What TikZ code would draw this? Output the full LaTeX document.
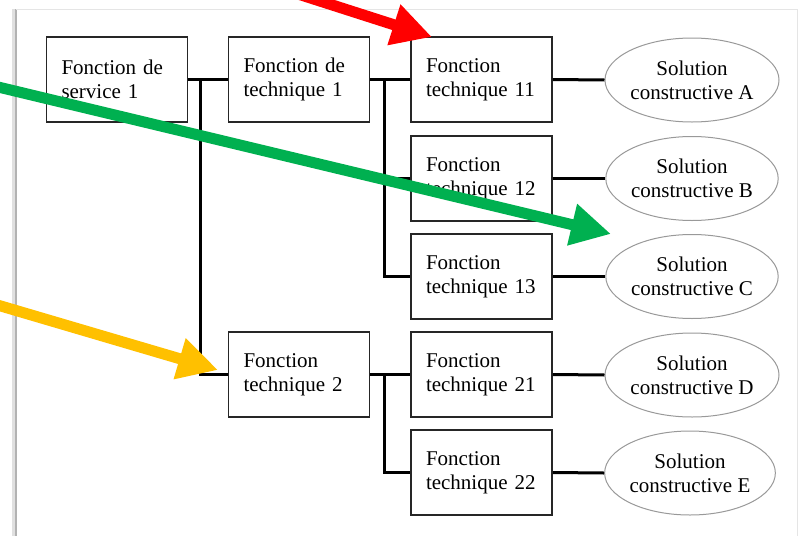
\documentclass[tikz,border=0pt]{standalone}
\usepackage{fontspec}
\setmainfont{Liberation Serif}
\usetikzlibrary{arrows.meta,shapes.geometric}
\definecolor{arred}{HTML}{FF0000}
\definecolor{argreen}{HTML}{00B050}
\definecolor{aryellow}{HTML}{FFC000}
\tikzset{
  fbox/.style={draw=black!85, line width=1.6pt, minimum width=141pt, minimum height=85pt,
    inner xsep=15pt, text width=111pt, align=left, font=\fontsize{21}{24}\selectfont},
  sol/.style={ellipse, draw=black!40, line width=1pt, minimum width=168pt, minimum height=84pt,
    inner sep=0pt, align=center, font=\fontsize{21}{24}\selectfont},
  conn/.style={line width=3pt, black},
  bigarrow/.style={line width=11pt, -{Triangle[length=40pt,width=40pt]}},
}
\begin{document}
\begin{tikzpicture}[x=1pt,y=-1pt]
\clip (0,0) rectangle (801,536);
\fill[white] (0,0) rectangle (801,536);
% page frame
\draw[black!12, line width=4pt] (14,9) -- (14,536);
\draw[black!30, line width=1.2pt] (16,9) -- (16,536);
\draw[black!10, line width=1pt] (16,9) -- (797,9) -- (797,536);

% boxes
\node[fbox] (FS1) at (117,79.5) {Fonction de service 1};
\node[fbox] (FT1) at (299,79.5) {Fonction de technique 1};
\node[fbox] (FT11) at (481.5,79.5) {Fonction technique 11};
\node[fbox] (FT12) at (481.5,178.5) {Fonction technique 12};
\node[fbox] (FT13) at (481.5,276.5) {Fonction technique 13};
\node[fbox] (FT2) at (299,374.5) {Fonction technique 2};
\node[fbox] (FT21) at (481.5,374.5) {Fonction technique 21};
\node[fbox] (FT22) at (481.5,472.5) {Fonction technique 22};

% ellipses
\node[sol] (SA) at (692,80) {Solution\\constructive A};
\node[sol] (SB) at (692,178.5) {Solution\\constructive B};
\node[sol] (SC) at (692,276.5) {Solution\\constructive C};
\node[sol] (SD) at (692,375) {Solution\\constructive D};
\node[sol] (SE) at (690,473) {Solution\\constructive E};

% connectors
\coordinate (j1) at (200,79.5);
\coordinate (j2) at (384,79.5);
\coordinate (j3) at (384,374.5);
\draw[conn] (FS1.east) -- (FT1.west);
\draw[conn] (j1) |- (FT2.west);
\draw[conn] (FT1.east) -- (FT11.west);
\draw[conn] (j2) |- (FT12.west);
\draw[conn] (j2) |- (FT13.west);
\draw[conn] (FT2.east) -- (FT21.west);
\draw[conn] (j3) |- (FT22.west);
\draw[conn] (FT11.east) -- (SA.west);
\draw[conn] (FT12.east) -- (SB.west);
\draw[conn] (FT13.east) -- (SC.west);
\draw[conn] (FT21.east) -- (SD.west);
\draw[conn] (FT22.east) -- (SE.west);

% highlight arrows
\coordinate (r0) at (298,-6);
\coordinate (r1) at (432,37);
\coordinate (g0) at (-6,86);
\coordinate (g1) at (611,234);
\coordinate (y0) at (-6,304);
\coordinate (y1) at (218,370);
\draw[bigarrow, arred] (r0) -- (r1);
\draw[bigarrow, argreen] (g0) -- (g1);
\draw[bigarrow, aryellow] (y0) -- (y1);
\end{tikzpicture}
\end{document}
